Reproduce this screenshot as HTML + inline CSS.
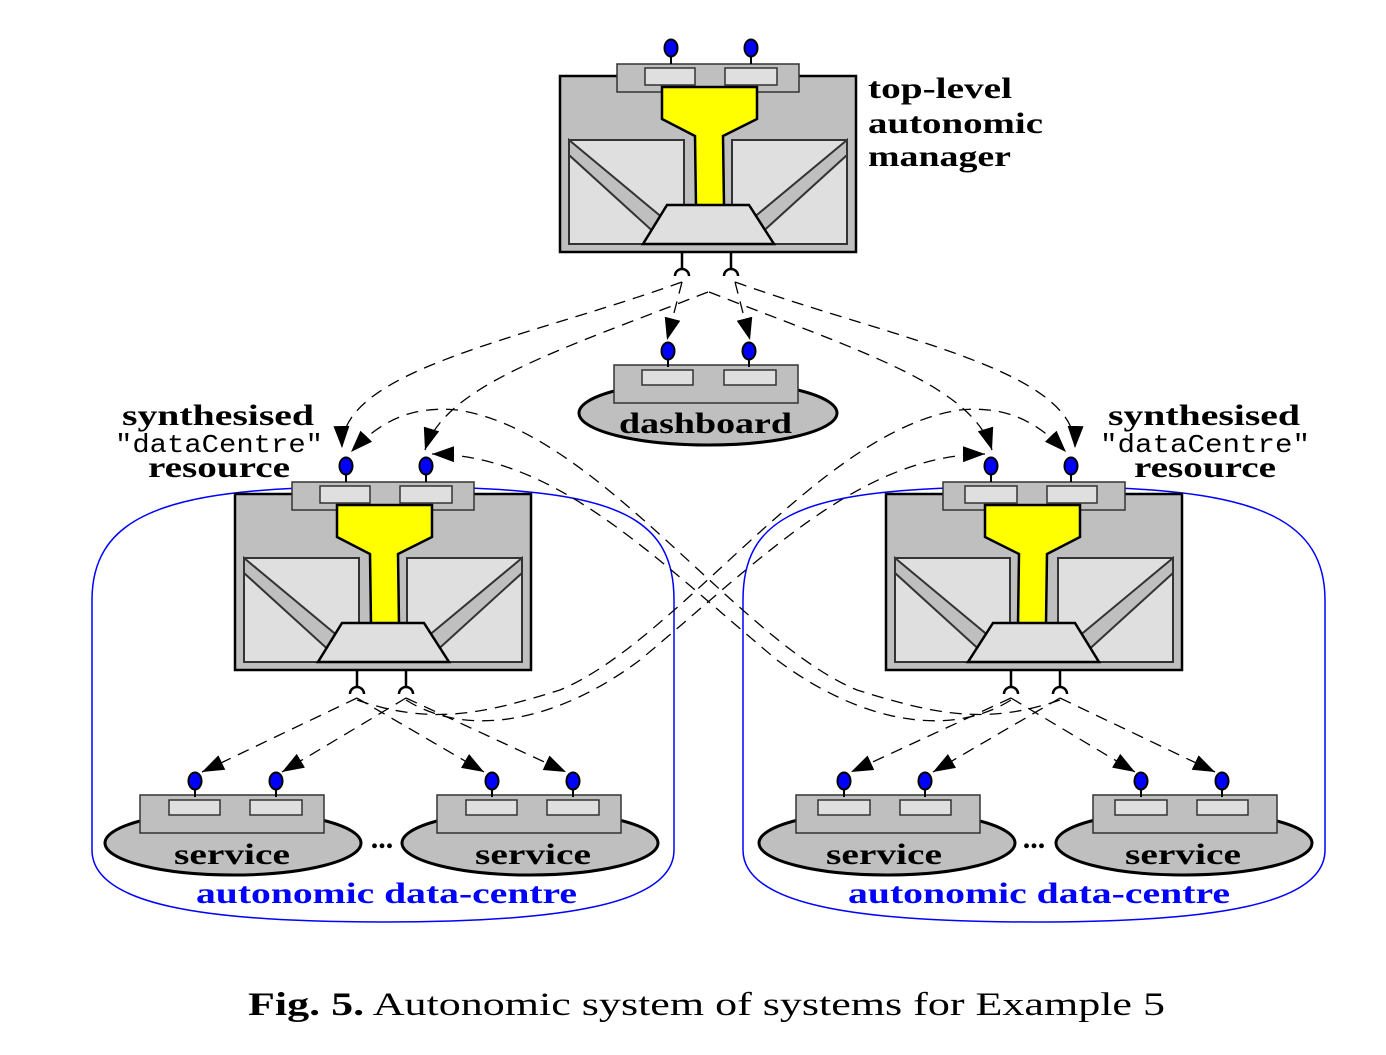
<!DOCTYPE html>
<html><head><meta charset="utf-8">
<style>
html,body{margin:0;padding:0;background:#fff;}
svg{display:block;}
.b{font-family:"Liberation Serif",serif;font-weight:bold;}
</style></head>
<body>
<svg width="1386" height="1055" viewBox="0 0 1386 1055" xmlns="http://www.w3.org/2000/svg">
<defs>
  <marker id="ah" viewBox="0 0 22 16" refX="22" refY="8" markerWidth="22" markerHeight="16" markerUnits="userSpaceOnUse" orient="auto">
    <path d="M0,0 L22,8 L0,16 Z" fill="#000"/>
  </marker>
  <g id="pin">
    <line x1="0" y1="0" x2="0" y2="16" stroke="#000" stroke-width="2"/>
    <ellipse cx="0" cy="0" rx="6.5" ry="8.5" fill="#0000ff" stroke="#000" stroke-width="2"/>
  </g>
  <g id="panel">
    <rect x="9" y="64" width="115" height="104" fill="#dfdfdf" stroke="#333" stroke-width="2"/>
    <polygon points="9,64 9,79 98,160 110,148" fill="#bfbfbf" stroke="#333" stroke-width="2"/>
  </g>
  <g id="mgr">
    <rect x="0" y="0" width="296" height="176" fill="#bfbfbf" stroke="#000" stroke-width="2.5"/>
    <use href="#panel"/>
    <use href="#panel" transform="translate(296,0) scale(-1,1)"/>
    <rect x="57" y="-12" width="182" height="28" fill="#bfbfbf" stroke="#333" stroke-width="1.5"/>
    <rect x="85" y="-8" width="50" height="17" fill="#dfdfdf" stroke="#333" stroke-width="1.5"/>
    <rect x="165" y="-8" width="52" height="17" fill="#dfdfdf" stroke="#333" stroke-width="1.5"/>
    <polygon points="102,11 197,11 197,43 163,60 164,130 136,130 135,60 102,43" fill="#ffff00" stroke="#000" stroke-width="2.5"/>
    <polygon points="107,129 189,129 214,168 83,168" fill="#dfdfdf" stroke="#000" stroke-width="2.5"/>
    <use href="#pin" x="111" y="-28"/>
    <use href="#pin" x="191" y="-28"/>
    <line x1="122" y1="176" x2="122" y2="193" stroke="#000" stroke-width="2.5"/>
    <line x1="171" y1="176" x2="171" y2="193" stroke="#000" stroke-width="2.5"/>
    <path d="M115,200 A7,7 0 0 1 129,200" fill="none" stroke="#000" stroke-width="2.5"/>
    <path d="M164,200 A7,7 0 0 1 178,200" fill="none" stroke="#000" stroke-width="2.5"/>
  </g>
  <g id="res">
    <ellipse cx="93" cy="48" rx="128" ry="32" fill="#bfbfbf" stroke="#000" stroke-width="3"/>
    <rect x="0" y="0" width="184" height="38" fill="#bfbfbf" stroke="#333" stroke-width="1.5"/>
    <rect x="29" y="5" width="51" height="15" fill="#dfdfdf" stroke="#333" stroke-width="1.5"/>
    <rect x="110" y="5" width="52" height="15" fill="#dfdfdf" stroke="#333" stroke-width="1.5"/>
    <use href="#pin" x="55" y="-14"/>
    <use href="#pin" x="136" y="-14"/>
  </g>
  <g id="half">
    <path d="M300,488 L470,488 C620,494 674,520 674,600 L674,850 C674,905 560,922 383,922 C205,922 92,905 92,850 L92,600 C92,520 160,494 300,488 Z" fill="none" stroke="#0000ff" stroke-width="1.5"/>
    <use href="#res" x="140" y="795"/>
    <use href="#res" x="437" y="795"/>
    <use href="#mgr" x="235" y="494"/>
    <g fill="none" stroke="#000" stroke-width="1.3" stroke-dasharray="12,8">
      <path d="M682,282 C520,340 340,370 342,448" marker-end="url(#ah)"/>
      <path d="M708,292 C560,350 445,385 425,450" marker-end="url(#ah)"/>
      <path d="M682,282 L667,340" marker-end="url(#ah)"/>
      <path d="M357,698 L202,772" marker-end="url(#ah)"/>
      <path d="M406,698 L282,772" marker-end="url(#ah)"/>
      <path d="M357,698 L484,772" marker-end="url(#ah)"/>
      <path d="M406,698 L566,772" marker-end="url(#ah)"/>
      <path d="M357,700 C430,725 480,715 560,690 C680,640 820,430 960,410 C1010,405 1040,425 1066,452" marker-end="url(#ah)"/>
      <path d="M406,700 C470,740 560,720 640,660 C760,560 860,455 985,454" marker-end="url(#ah)"/>
    </g>
  </g>
</defs>

<use href="#half"/>
<use href="#half" transform="translate(1417,0) scale(-1,1)"/>

<use href="#mgr" x="560" y="76"/>
<g transform="translate(614,365)">
  <ellipse cx="94" cy="48" rx="129" ry="32" fill="#bfbfbf" stroke="#000" stroke-width="3"/>
  <rect x="0" y="0" width="184" height="38" fill="#bfbfbf" stroke="#333" stroke-width="1.5"/>
  <rect x="28" y="5" width="51" height="15" fill="#dfdfdf" stroke="#333" stroke-width="1.5"/>
  <rect x="110" y="5" width="52" height="15" fill="#dfdfdf" stroke="#333" stroke-width="1.5"/>
  <use href="#pin" x="54" y="-14"/>
  <use href="#pin" x="135" y="-14"/>
</g>

<g class="b" font-size="30" fill="#000" lengthAdjust="spacingAndGlyphs">
  <text x="868" y="98" textLength="144" lengthAdjust="spacingAndGlyphs">top-level</text>
  <text x="868" y="133" textLength="175" lengthAdjust="spacingAndGlyphs">autonomic</text>
  <text x="868" y="166" textLength="143" lengthAdjust="spacingAndGlyphs">manager</text>
  <text x="619" y="433" textLength="173" lengthAdjust="spacingAndGlyphs">dashboard</text>
  <text x="122" y="425" textLength="192" lengthAdjust="spacingAndGlyphs">synthesised</text>
  <text x="148" y="477" textLength="142" lengthAdjust="spacingAndGlyphs">resource</text>
  <text x="1108" y="425" textLength="192" lengthAdjust="spacingAndGlyphs">synthesised</text>
  <text x="1134" y="477" textLength="142" lengthAdjust="spacingAndGlyphs">resource</text>
  <text x="174" y="864" textLength="116" lengthAdjust="spacingAndGlyphs">service</text>
  <text x="475" y="864" textLength="116" lengthAdjust="spacingAndGlyphs">service</text>
  <text x="826" y="864" textLength="116" lengthAdjust="spacingAndGlyphs">service</text>
  <text x="1125" y="864" textLength="116" lengthAdjust="spacingAndGlyphs">service</text>
  <text x="382" y="848" text-anchor="middle">...</text>
  <text x="1034" y="848" text-anchor="middle">...</text>
  <text x="196" y="903" fill="#0000ff" textLength="381" lengthAdjust="spacingAndGlyphs">autonomic data-centre</text>
  <text x="848" y="903" fill="#0000ff" textLength="382" lengthAdjust="spacingAndGlyphs">autonomic data-centre</text>
</g>
<g font-family="Liberation Mono, monospace" font-size="26" fill="#000">
  <text x="115" y="452" textLength="208" lengthAdjust="spacingAndGlyphs">"dataCentre"</text>
  <text x="1100" y="452" textLength="210" lengthAdjust="spacingAndGlyphs">"dataCentre"</text>
</g>
<text x="248" y="1015" font-family="Liberation Serif, serif" font-size="33" fill="#000" textLength="917" lengthAdjust="spacingAndGlyphs"><tspan font-weight="bold">Fig. 5.</tspan> Autonomic system of systems for Example 5</text>
</svg>
</body></html>
